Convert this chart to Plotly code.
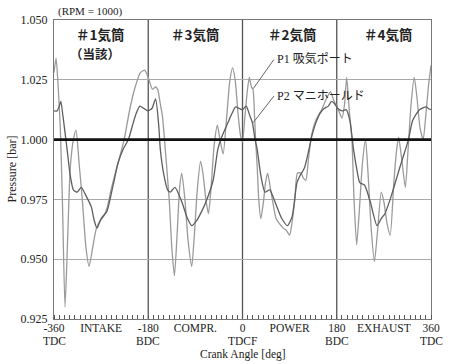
import plotly.graph_objects as go

# Crank angle [deg] and pressure [bar] samples for the two pressure traces
p1_angle = [-360, -356, -352, -348, -344, -339, -334, -329, -323, -318, -312, -306,
            -299, -293, -286, -279, -272, -265, -258, -250, -238, -226, -215, -205,
            -195, -187, -180, -172, -166, -162, -157, -153, -149, -140, -135, -130,
            -125, -120, -116, -110, -104, -97, -92, -86, -80, -75, -70, -65, -60,
            -54, -48, -43, -37, -30, -24, -19, -14, -9, -4, 0, 4, 9, 13, 17, 20, 23,
            25, 28, 31, 35, 40, 44, 48, 53, 57, 64, 70, 78, 84, 90, 95, 100, 105,
            112, 116, 121, 126, 132, 140, 150, 160, 168, 175, 182, 190, 195, 199,
            204, 209, 213, 218, 223, 229, 235, 240, 246, 252, 258, 265, 270, 276,
            282, 289, 294, 298, 304, 311, 316, 322, 328, 333, 339, 345, 350, 355, 360]
p1_pressure = [1.028, 1.034, 1.022, 1.005, 0.975, 0.930, 0.958, 0.988, 1.000, 1.004, 0.990, 0.975,
               0.955, 0.947, 0.955, 0.963, 0.966, 0.968, 0.972, 0.980, 0.990, 1.000, 1.013, 1.022,
               1.028, 1.029, 1.026, 1.021, 1.022, 1.021, 1.015, 1.010, 1.000, 0.975, 0.955, 0.943,
               0.960, 0.980, 0.986, 0.975, 0.958, 0.947, 0.960, 0.980, 0.991, 0.985, 0.975, 0.969, 0.980,
               0.998, 1.006, 1.000, 0.994, 1.010, 1.025, 1.030, 1.025, 1.012, 1.002, 0.999, 1.008, 1.020, 1.026, 1.022, 1.021, 1.010,
               1.000, 0.989, 0.975, 0.967, 0.974, 0.982, 0.986, 0.980, 0.975, 0.967, 0.965, 0.963, 0.962, 0.960, 0.966, 0.975, 0.986,
               0.986, 0.984, 0.983, 0.992, 1.002, 1.008, 1.012, 1.017, 1.020, 1.016, 1.013, 1.009, 1.015, 1.026,
               1.012, 1.000, 0.975, 0.956, 0.970, 0.990, 1.000, 0.985, 0.962, 0.949, 0.962, 0.978, 0.974, 0.965,
               0.960, 0.982, 0.995, 1.001, 0.992, 0.980, 0.995, 1.015, 1.026, 1.018, 1.005, 1.000, 1.010, 1.022, 1.031]

p2_angle = [-360, -354, -350, -347, -343, -339, -334, -329, -323, -316, -308, -300,
            -289, -283, -278, -270, -259, -252, -246, -238, -228, -218, -210, -203,
            -196, -188, -181, -173, -166, -160, -157, -150, -143, -138, -129, -116,
            -105, -97, -88, -78, -68, -56, -47, -38, -28, -20, -13, -6, 0, 7, 14, 19,
            24, 28, 35, 43, 52, 62, 75, 86, 95, 104, 110, 118, 126, 133, 140, 148,
            156, 164, 170, 176, 182, 190, 198, 205, 212, 218, 224, 233, 244, 257,
            265, 272, 282, 289, 300, 310, 317, 325, 338, 351, 355, 360]
p2_pressure = [1.012, 1.012, 1.014, 1.016, 1.010, 1.003, 0.994, 0.985, 0.979, 0.978, 0.980, 0.977,
               0.972, 0.966, 0.963, 0.967, 0.970, 0.976, 0.982, 0.990, 0.996, 1.000, 1.006, 1.011,
               1.014, 1.013, 1.012, 1.013, 1.017, 1.006, 0.996, 0.985, 0.979, 0.978, 0.980, 0.974,
               0.967, 0.964, 0.966, 0.970, 0.975, 0.983, 0.996, 1.002, 1.007, 1.011, 1.0137, 1.013, 1.0125, 1.014, 1.010, 1.007,
               1.000, 0.996, 0.985, 0.978, 0.979, 0.974, 0.967, 0.964, 0.968, 0.982, 0.985, 0.988, 0.995, 1.002, 1.007, 1.011,
               1.013, 1.014, 1.016, 1.015, 1.013, 1.012, 1.0125, 1.008, 0.996, 0.988, 0.982, 0.981, 0.974, 0.964,
               0.967, 0.969, 0.975, 0.980, 0.988, 0.995, 1.000, 1.008, 1.0125, 1.0137, 1.013, 1.0125]

tick_angles = [-360, -270, -180, -90, 0, 90, 180, 270, 360]
tick_labels = ["-360", "INTAKE", "-180", "COMPR.", "0", "POWER", "180", "EXHAUST", "360"]
dead_centre_angles = [-360, -180, 0, 180, 360]
dead_centre_labels = ["TDC", "BDC", "TDCF", "BDC", "TDC"]
stroke_bounds = [-180, 0, 180]
cylinder_centres = [-272, -90, 95, 278]
cylinder_names = ["＃1気筒", "＃3気筒", "＃2気筒", "＃4気筒"]

SERIF = "Liberation Serif, Times New Roman, serif"
GOTHIC = "Noto Sans CJK JP, sans-serif"
INK = "#222222"

fig = go.Figure()
fig.add_trace(go.Scatter(x=p1_angle, y=p1_pressure, mode="lines", name="P1",
                         line=dict(color="#9a9a9a", width=1.3, shape="spline", smoothing=0.6)))
fig.add_trace(go.Scatter(x=p2_angle, y=p2_pressure, mode="lines", name="P2",
                         line=dict(color="#5e5e5e", width=1.3, shape="spline", smoothing=0.6)))

# stroke boundaries and the 1 bar reference line
for a in stroke_bounds:
    fig.add_vline(x=a, line=dict(color="#555555", width=1.3), layer="below")
fig.add_hline(y=1.0, line=dict(color="#111111", width=2.6))

# cylinder headings
for cx, name in zip(cylinder_centres, cylinder_names):
    fig.add_annotation(x=cx, y=1.0440, text=f"<b>{name}</b>", showarrow=False,
                       yanchor="middle", borderpad=0,
                       font=dict(family=GOTHIC, size=13.5, color=INK))
fig.add_annotation(x=-281, y=1.0360, text="<b>（当該）</b>", showarrow=False,
                   yanchor="middle", borderpad=0,
                   font=dict(family=GOTHIC, size=12.5, color=INK))

# trace labels with leader lines
fig.add_annotation(x=63, y=1.0342, xanchor="left", yanchor="middle", showarrow=False,
                   text="P1 <span style='font-family:Noto Sans CJK JP'>吸気ポート</span>",
                   font=dict(family=SERIF, size=12, color=INK))
fig.add_annotation(x=63, y=1.0190, xanchor="left", yanchor="middle", showarrow=False,
                   text="P2 <span style='font-family:Noto Sans CJK JP'>マニホールド</span>",
                   font=dict(family=SERIF, size=12, color=INK))
fig.add_shape(type="line", x0=60, y0=1.0335, x1=20.5, y1=1.0213,
              line=dict(color="#666666", width=1))
fig.add_shape(type="line", x0=60, y0=1.0182, x1=20.5, y1=1.0071,
              line=dict(color="#666666", width=1))

# second row of crank-angle labels (dead centres)
for a, lab in zip(dead_centre_angles, dead_centre_labels):
    fig.add_annotation(x=a, y=-0.075, yref="paper", text=lab, showarrow=False,
                       yanchor="middle", xanchor="center", borderpad=0,
                       font=dict(family=SERIF, size=11.5, color=INK))

fig.add_annotation(x=0.005, y=1.027, xref="paper", yref="paper", xanchor="left", yanchor="middle",
                   text="(RPM = 1000)", showarrow=False,
                   font=dict(family=SERIF, size=11, color=INK))
fig.add_annotation(x=0.5, y=-0.119, xref="paper", yref="paper", yanchor="middle", xanchor="center",
                   text="Crank Angle [deg]", showarrow=False, borderpad=0,
                   font=dict(family=SERIF, size=11.5, color=INK))
fig.add_annotation(x=-0.114, y=0.5, xref="paper", yref="paper", textangle=-90,
                   xanchor="center", yanchor="middle",
                   text="Pressure [bar]", showarrow=False,
                   font=dict(family=SERIF, size=12, color=INK))

fig.update_layout(
    width=452, height=364,
    margin=dict(l=54, r=12, t=20, b=45),
    paper_bgcolor="white", plot_bgcolor="white",
    showlegend=False,
    xaxis=dict(range=[-360, 360], tickmode="array", tickvals=tick_angles, ticktext=tick_labels,
               showgrid=False, zeroline=False, ticks="", ticklabelstandoff=-2,
               showline=True, linecolor="#777777", linewidth=1.2, mirror=True,
               tickfont=dict(family=SERIF, size=11.5, color=INK),
               minor=dict(tickmode="linear", tick0=-360, dtick=10, ticks="inside",
                          ticklen=4, tickcolor="#555555", tickwidth=1, showgrid=False)),
    yaxis=dict(range=[0.925, 1.050], tickmode="linear", tick0=0.925, dtick=0.025,
               tickformat=".3f", showgrid=True, gridcolor="#aaaaaa", gridwidth=1,
               zeroline=False, ticks="", ticklabelstandoff=3,
               showline=True, linecolor="#777777", linewidth=1.2, mirror=True,
               tickfont=dict(family=SERIF, size=12, color=INK)),
)

fig.write_html("out.html")
